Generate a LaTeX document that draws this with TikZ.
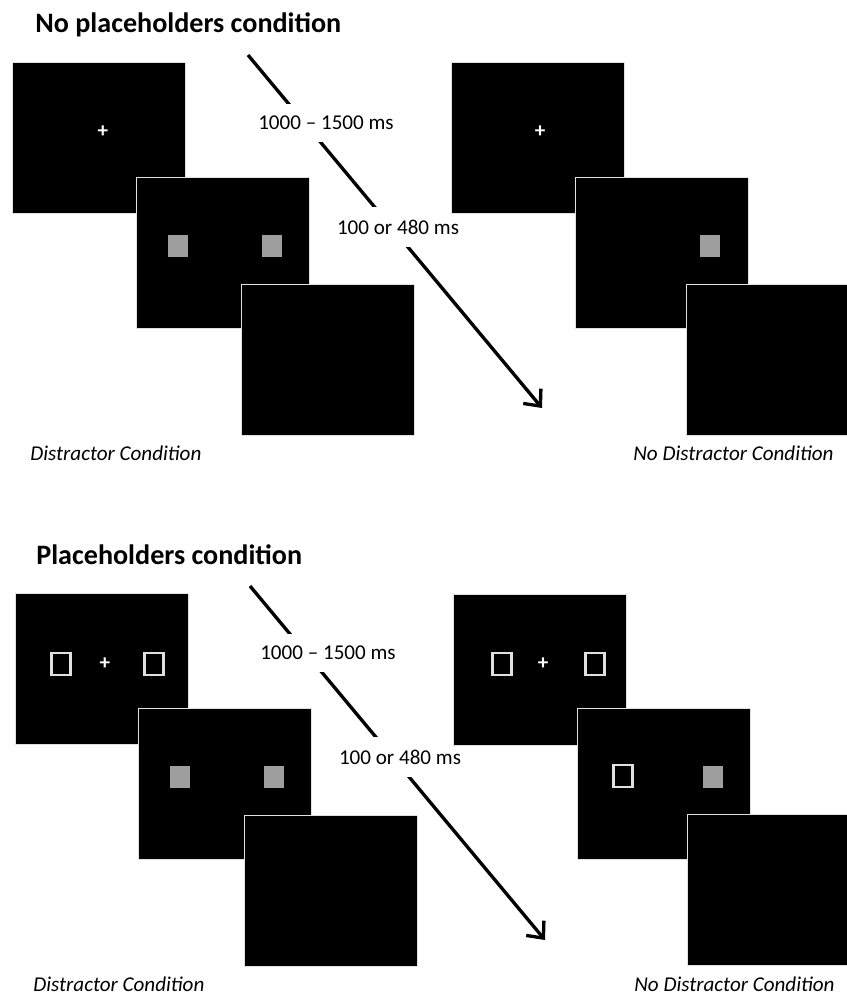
\documentclass[tikz,border=0pt]{standalone}
\usepackage{fontspec}
\setmainfont{Carlito}
\usetikzlibrary{arrows.meta}
\tikzset{>={Straight Barb[length=2.6mm,width=4.6mm]}}
\tikzset{
  screen/.style={draw=black!12, line width=0.6pt, fill=black, anchor=north west,
    minimum width=34.6mm, minimum height=30.2mm, inner sep=0pt},
  target/.style={fill=black!38, minimum width=4mm, minimum height=4.4mm, inner sep=0pt},
  holder/.style={draw=white!88!black, line width=1.3pt, minimum width=3.8mm,
    minimum height=4.4mm, inner sep=0pt},
  fix/.style={text=white, font=\fontsize{12}{12}\selectfont\bfseries, inner sep=0pt},
  timing/.style={fill=white, font=\fontsize{12}{14}\selectfont, inner xsep=1pt, inner ysep=7pt},
  cond/.style={font=\fontsize{12}{14}\selectfont\itshape, inner sep=0pt},
  heading/.style={font=\fontsize{16}{19}\selectfont\bfseries, anchor=west, inner sep=0pt},
  timeline/.style={->, line width=1.9pt}
}
\begin{document}
\begin{tikzpicture}[x=0.2mm, y=-0.2mm]
    \useasboundingbox (0,0) rectangle (847,995);

    % no placeholders
    \node[heading] (titleA) at (35,25) {No placeholders condition};

    \node[screen] (a1) at (12,62) {};
    \node[fix] (a1fix) at (103,132) {+};
    \node[screen] (a2) at (136,177) {};
    \node[target] (a2l) at (178,246) {};
    \node[target] (a2r) at (272,246) {};
    \node[screen] (a3) at (241,284) {};

    \coordinate (aStart) at (248,55);
    \coordinate (aEnd) at (542,408);
    \draw[timeline] (aStart) -- (aEnd);
    \node[timing] (aT1) at (326,123) {1000 – 1500 ms};
    \node[timing] (aT2) at (398,227) {100 or 480 ms};

    \node[screen] (b1) at (451,62) {};
    \node[fix] (b1fix) at (540,132) {+};
    \node[screen] (b2) at (575,177) {};
    \node[target] (b2r) at (710,246) {};
    \node[screen] (b3) at (686,284) {};

    \node[cond, anchor=west] (aL) at (30,453) {Distractor Condition};
    \node[cond, anchor=west] (aR) at (633,453) {No Distractor Condition};

    % placeholders
    \node[heading] (titleB) at (36,555) {Placeholders condition};

    \node[screen] (c1) at (15,593) {};
    \node[holder] (c1l) at (61,664) {};
    \node[fix] (c1fix) at (105,664) {+};
    \node[holder] (c1r) at (154,664) {};
    \node[screen] (c2) at (138,708) {};
    \node[target] (c2l) at (180,777) {};
    \node[target] (c2r) at (274,777) {};
    \node[screen] (c3) at (244,815) {};

    \coordinate (bStart) at (250,586);
    \coordinate (bEnd) at (545,940);
    \draw[timeline] (bStart) -- (bEnd);
    \node[timing] (bT1) at (328,653) {1000 – 1500 ms};
    \node[timing] (bT2) at (400,757) {100 or 480 ms};

    \node[screen] (d1) at (453,594) {};
    \node[holder] (d1l) at (502,664) {};
    \node[fix] (d1fix) at (543,664) {+};
    \node[holder] (d1r) at (595,664) {};
    \node[screen] (d2) at (577,708) {};
    \node[holder] (d2l) at (623,776) {};
    \node[target] (d2r) at (713,777) {};
    \node[screen] (d3) at (687,814) {};

    \node[cond, anchor=west] (cL) at (33,984) {Distractor Condition};
    \node[cond, anchor=west] (cR) at (634,984) {No Distractor Condition};
\end{tikzpicture}
\end{document}
